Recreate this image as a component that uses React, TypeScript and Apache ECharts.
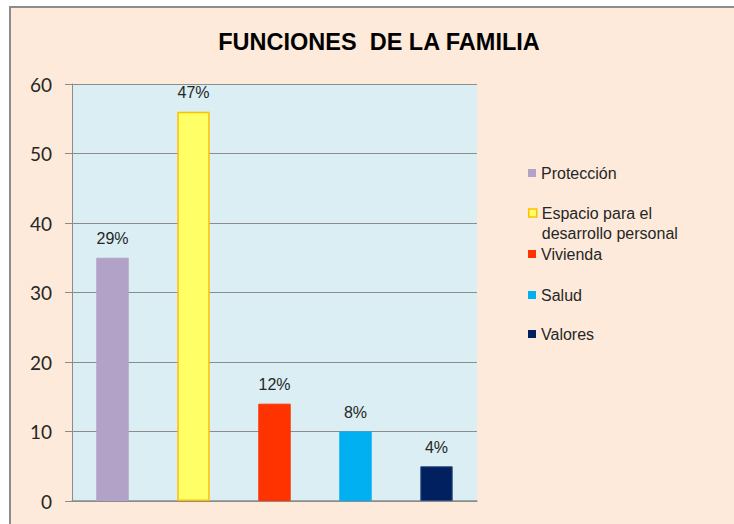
import React, { useEffect, useRef } from "react";
import * as echarts from "echarts";

const titleText = "FUNCIONES  DE LA FAMILIA";
const categories = [
  "Protección",
  "Espacio para el desarrollo personal",
  "Vivienda",
  "Salud",
  "Valores",
];
const values = [35, 56, 14, 10, 5];
const percentLabels = ["29%", "47%", "12%", "8%", "4%"];
const colors = ["#B3A2C7", "#FFFF66", "#FF3300", "#00B0F0", "#002060"];
const borderColors = ["#B3A2C7", "#FFC000", "#FF3300", "#00B0F0", "#2F4D80"];
const legendLabels = [
  "Protección",
  "Espacio para el\ndesarrollo personal",
  "Vivienda",
  "Salud",
  "Valores",
];
const yMin = 0;
const yMax = 60;
const yInterval = 10;

export default function App() {
  const ref = useRef<HTMLDivElement>(null);
  useEffect(() => {
    if (!ref.current) return;
    const chart = echarts.init(ref.current, null, { renderer: "svg" });
    const legendCenters = [173, 213, 254, 295, 334];
    const series = categories.map((name, i) => ({
      name,
      type: "bar",
      barWidth: "40%",
      barGap: "-100%",
      data: values.map((v, j) => (j === i ? v : "-")),
      itemStyle: {
        color: colors[i],
        borderColor: borderColors[i],
        borderWidth: i === 1 ? 1.5 : 1,
      },
      label: {
        show: true,
        position: "top",
        distance: 11,
        formatter: () => percentLabels[i],
        fontFamily: "Liberation Sans, Arial, sans-serif",
        fontSize: 16,
        color: "#262626",
      },
    }));
    const legends = categories.map((name, i) => {
      const twoLine = legendLabels[i].includes("\n");
      return {
        data: [name],
        orient: "vertical",
        left: 528,
        top: twoLine ? legendCenters[i] - 30 : legendCenters[i] - 9,
        padding: 0,
        itemWidth: 8,
        itemHeight: 8,
        icon: "rect",
        selectedMode: false,
        formatter: () => (twoLine ? "\n" + legendLabels[i] : legendLabels[i]),
        itemStyle: {
          borderColor: borderColors[i],
          borderWidth: i === 1 ? 1.5 : 0,
        },
        textStyle: {
          fontFamily: "Liberation Sans, Arial, sans-serif",
          fontSize: 16,
          color: "#262626",
          lineHeight: twoLine ? 20 : 18,
        },
      };
    });
    chart.setOption({
      animation: false,
      backgroundColor: "#FFFFFF",
      graphic: [
        {
          type: "rect",
          z: -10,
          silent: true,
          shape: { x: 10, y: 7, width: 760, height: 560 },
          style: { fill: "#FDEADA", stroke: "#8C8C8C", lineWidth: 2 },
        },
        {
          type: "text",
          x: 379,
          y: 42,
          style: {
            text: titleText,
            fontFamily: "Liberation Sans, Arial, sans-serif",
            fontWeight: "bold",
            fontSize: 23.5,
            fill: "#000000",
            textAlign: "center",
            textVerticalAlign: "middle",
          },
        },
      ],
      legend: legends,
      grid: {
        left: 72,
        right: 257,
        top: 84,
        bottom: 23,
        show: true,
        backgroundColor: "#DAEEF3",
        borderWidth: 0,
      },
      xAxis: {
        type: "category",
        data: categories,
        axisLabel: { show: false },
        axisTick: { show: false },
        axisLine: { show: true, lineStyle: { color: "#8C8C8C", width: 1.5 } },
        splitLine: { show: false },
      },
      yAxis: {
        type: "value",
        min: yMin,
        max: yMax,
        interval: yInterval,
        axisLine: { show: true, lineStyle: { color: "#8C8C8C", width: 1 } },
        axisTick: {
          show: true,
          inside: false,
          length: 7,
          lineStyle: { color: "#8C8C8C" },
        },
        axisLabel: {
          margin: 20,
          fontFamily: "Lato, 'Open Sans', sans-serif",
          fontSize: 19,
          color: "#262626",
        },
        splitLine: { show: true, lineStyle: { color: "#8C8C8C", width: 1 } },
      },
      series,
    });
    return () => chart.dispose();
  }, []);
  return (
    <div
      ref={ref}
      style={{ position: "absolute", left: 0, top: 0, width: 734, height: 524 }}
    />
  );
}
